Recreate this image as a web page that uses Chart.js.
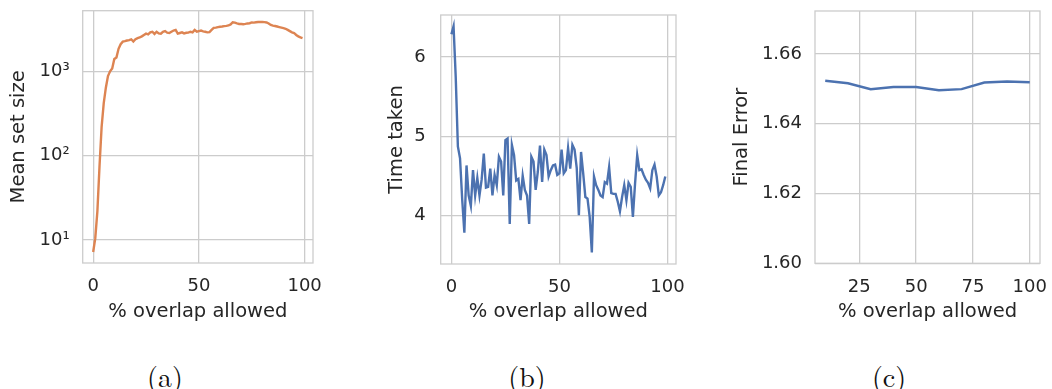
<!DOCTYPE html>
<html>
<head>
<meta charset="utf-8">
<script src="https://cdn.jsdelivr.net/npm/chart.js@4.4.1/dist/chart.umd.min.js"></script>
<style>
  html, body { margin: 0; padding: 0; background: #fff; width: 1052px; height: 389px; overflow: hidden; }
  .panel { position: absolute; top: 0; height: 330px; }
  .panel canvas { display: block; }
  .cap { position: absolute; top: 359px; font-family: "Latin Modern Roman", "Liberation Serif", serif;
         font-size: 28px; line-height: 32px; color: #111; transform: translateX(-50%); white-space: nowrap; }
</style>
</head>
<body>
<div class="panel" style="left:0px;width:340px"><canvas id="chartA" width="340" height="330"></canvas></div>
<div class="panel" style="left:370px;width:320px"><canvas id="chartB" width="320" height="330"></canvas></div>
<div class="panel" style="left:720px;width:332px"><canvas id="chartC" width="332" height="330"></canvas></div>
<div class="cap" style="left:165px">(a)</div>
<div class="cap" style="left:527px">(b)</div>
<div class="cap" style="left:889px">(c)</div>

<script>
// % overlap allowed, one run per percentage step
const overlapSteps = [
  0, 1, 2, 3, 4, 5, 6, 7, 8, 9, 10, 11, 12, 13, 14, 15, 16, 17, 18, 19,
  20, 21, 22, 23, 24, 25, 26, 27, 28, 29, 30, 31, 32, 33, 34, 35, 36, 37, 38, 39,
  40, 41, 42, 43, 44, 45, 46, 47, 48, 49, 50, 51, 52, 53, 54, 55, 56, 57, 58, 59,
  60, 61, 62, 63, 64, 65, 66, 67, 68, 69, 70, 71, 72, 73, 74, 75, 76, 77, 78, 79,
  80, 81, 82, 83, 84, 85, 86, 87, 88, 89, 90, 91, 92, 93, 94, 95, 96, 97, 98, 99
];

// (a) mean set size per overlap step
const meanSetSize = [
  7.2, 10.5, 22, 75, 220, 420, 640, 880, 1000, 1080,
  1400, 1460, 1850, 2100, 2250, 2280, 2320, 2350, 2400, 2260,
  2400, 2480, 2520, 2600, 2700, 2800, 2750, 2900, 2950, 2780,
  2950, 2820, 2800, 2950, 3000, 2880, 2850, 2950, 3050, 3100,
  2800, 2850, 2900, 2820, 2870, 2880, 2950, 2900, 3100, 2950,
  3000, 3050, 2980, 2950, 2900, 2920, 3100, 3280, 3300, 3350,
  3380, 3400, 3440, 3460, 3500, 3600, 3820, 3780, 3700, 3650,
  3640, 3620, 3650, 3700, 3720, 3800, 3780, 3820, 3850, 3860,
  3850, 3840, 3800, 3700, 3550, 3480, 3450, 3400, 3350, 3300,
  3250, 3200, 3100, 3000, 2900, 2850, 2700, 2600, 2530, 2480
];

// (b) time taken per overlap step
const timeTaken = [
  6.29, 6.39, 5.75, 4.87, 4.72, 4.20, 3.78, 4.63, 4.25, 4.12,
  4.57, 4.25, 4.47, 4.25, 4.45, 4.78, 4.35, 4.36, 4.59, 4.25,
  4.51, 4.38, 4.74, 4.68, 4.25, 4.95, 4.97, 3.89, 4.89, 4.76,
  4.44, 4.46, 4.19, 4.50, 4.32, 4.25, 3.89, 4.74, 4.68, 4.32,
  4.55, 4.88, 4.42, 4.83, 4.76, 4.49, 4.57, 4.63, 4.64, 4.51,
  4.53, 4.83, 4.53, 4.57, 4.85, 4.59, 4.89, 4.83, 4.60, 4.00,
  4.80, 4.53, 4.23, 4.21, 3.98, 3.53, 4.49, 4.38, 4.32, 4.25,
  4.23, 4.42, 4.40, 4.61, 4.28, 4.27, 4.27, 4.17, 4.05, 4.23,
  4.38, 4.19, 4.41, 4.36, 3.98, 4.40, 4.76, 4.57, 4.58, 4.51,
  4.45, 4.41, 4.34, 4.57, 4.64, 4.49, 4.25, 4.29, 4.38, 4.49
];

// (c) final error at coarser overlap steps
const overlapCoarse = [10, 20, 30, 40, 50, 60, 70, 80, 90, 100];
const finalError = [1.6523, 1.6516, 1.6499, 1.6505, 1.6505, 1.6496, 1.6499, 1.6518, 1.6521, 1.6519];

// tick labels
const ticksA_x = [0, 50, 100];
const ticksA_y = [10, 100, 1000];
const ticksB_x = [0, 50, 100];
const ticksB_y = [4, 5, 6];
const ticksC_x = [25, 50, 75, 100];
const ticksC_y = [1.60, 1.62, 1.64, 1.66];

const INK = '#262626';
const GRID = '#cccccc';
const SANS = '"DejaVu Sans", sans-serif';
const SUP = { '0': '\u2070', '1': '\u00b9', '2': '\u00b2', '3': '\u00b3' };

// light frame around each plotting area
const framePlugin = {
  id: 'frame',
  beforeDatasetsDraw(chart) {
    const { ctx, chartArea: a } = chart;
    ctx.save();
    ctx.strokeStyle = GRID;
    ctx.lineWidth = 1.3;
    ctx.strokeRect(a.left, a.top, a.right - a.left, a.bottom - a.top);
    ctx.restore();
  }
};

function fixedTicks(values) {
  return scale => { scale.ticks = values.map(v => ({ value: v })); };
}

function makePanel(canvasId, cfg) {
  const points = cfg.xs.map((x, i) => ({ x: x, y: cfg.ys[i] }));
  return new Chart(document.getElementById(canvasId), {
    type: 'line',
    data: {
      datasets: [{
        data: points,
        borderColor: cfg.color,
        borderWidth: 2.4,
        pointRadius: 0,
        tension: 0,
        fill: false
      }]
    },
    options: {
      responsive: false,
      animation: false,
      events: [],
      layout: { padding: { top: cfg.top, right: cfg.right, left: 0, bottom: 0 } },
      plugins: { legend: { display: false }, tooltip: { enabled: false } },
      scales: {
        x: {
          type: 'linear',
          min: cfg.xMin, max: cfg.xMax,
          bounds: 'data',
          afterBuildTicks: fixedTicks(cfg.xTicks),
          afterFit: s => { s.height = cfg.xHeight; s.paddingLeft = 0; s.paddingRight = 0; },
          grid: { color: GRID, lineWidth: 1.3, drawTicks: false },
          border: { display: false },
          ticks: {
            color: INK, padding: 13, maxRotation: 0, autoSkip: false,
            font: { family: SANS, size: 18 },
            callback: v => String(v)
          },
          title: {
            display: true, text: '% overlap allowed', color: INK,
            font: { family: SANS, size: 19.5 },
            padding: { top: 0, bottom: 6 }
          }
        },
        y: {
          type: cfg.yType,
          min: cfg.yMin, max: cfg.yMax,
          bounds: 'data',
          afterBuildTicks: fixedTicks(cfg.yTicks),
          afterFit: s => { s.width = cfg.yWidth; s.paddingTop = 0; s.paddingBottom = 0; },
          grid: { color: GRID, lineWidth: 1.3, drawTicks: false },
          border: { display: false },
          ticks: {
            color: INK, padding: cfg.yTickPad, autoSkip: false,
            font: { family: SANS, size: 18 },
            callback: cfg.yFmt
          },
          title: {
            display: true, text: cfg.yTitle, color: INK,
            font: { family: SANS, size: 19.5 },
            padding: { top: cfg.yTitlePad, bottom: 0 }
          }
        }
      }
    },
    plugins: [framePlugin]
  });
}

makePanel('chartA', {
  xs: overlapSteps, ys: meanSetSize, color: '#dd8452',
  xMin: -4.95, xMax: 103.95, xTicks: ticksA_x,
  yType: 'logarithmic', yMin: 5.33, yMax: 5240, yTicks: ticksA_y,
  yFmt: v => '10' + SUP[String(Math.round(Math.log10(v)))],
  yTitle: 'Mean set size', yTitlePad: 7.3, yTickPad: 13,
  yWidth: 82.7, xHeight: 67, top: 10.7, right: 27
});

makePanel('chartB', {
  xs: overlapSteps, ys: timeTaken, color: '#4c72b0',
  xMin: -4.95, xMax: 103.95, xTicks: ticksB_x,
  yType: 'linear', yMin: 3.383, yMax: 6.533, yTicks: ticksB_y,
  yFmt: v => String(v),
  yTitle: 'Time taken', yTitlePad: 15, yTickPad: 15,
  yWidth: 70.7, xHeight: 66, top: 15, right: 14
});

makePanel('chartC', {
  xs: overlapCoarse, ys: finalError, color: '#4c72b0',
  xMin: 5.5, xMax: 104.5, xTicks: ticksC_x,
  yType: 'linear', yMin: 1.60, yMax: 1.6723, yTicks: ticksC_y,
  yFmt: v => v.toFixed(2),
  yTitle: 'Final Error', yTitlePad: 10, yTickPad: 13,
  yWidth: 95, xHeight: 66.7, top: 11, right: 12
});
</script>
</body>
</html>
